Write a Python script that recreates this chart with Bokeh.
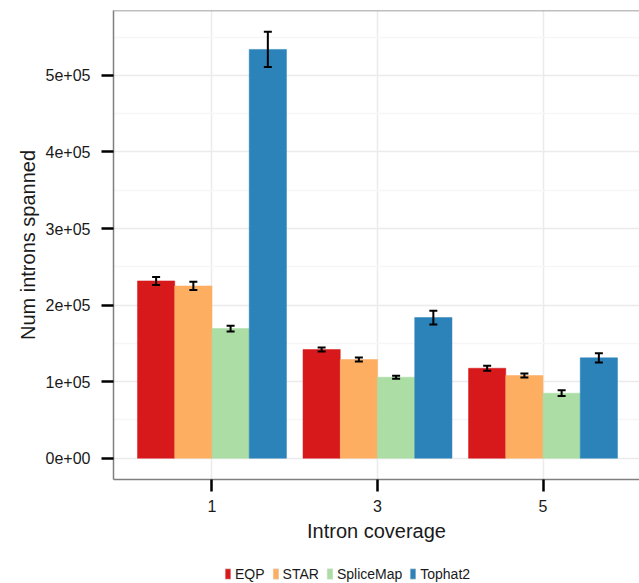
from bokeh.plotting import figure
from bokeh.layouts import column
from bokeh.models import (ColumnDataSource, Range1d, FixedTicker, Whisker, TeeHead,
                          Legend, LegendItem, Span)
from bokeh.embed import file_html
from bokeh.resources import INLINE

# ---------------- data ----------------
coverage = ["1", "3", "5"]
methods = ["EQP", "STAR", "SpliceMap", "Tophat2"]
colors = ["#D7191C", "#FDAE61", "#ABDDA4", "#2B83BA"]

eqp = [231600, 141900, 117500]
eqp_err = [5200, 2600, 3300]
star = [225000, 128900, 108000]
star_err = [5400, 2600, 2600]
splicemap = [169300, 105800, 84900]
splicemap_err = [3700, 2000, 3700]
tophat2 = [534000, 183700, 131100]
tophat2_err = [23000, 8900, 6100]

y_ticks = [0, 100000, 200000, 300000, 400000, 500000]
y_tick_labels = ["0e+00", "1e+05", "2e+05", "3e+05", "4e+05", "5e+05"]
y_minor = [50000, 150000, 250000, 350000, 450000, 550000]

values = [eqp, star, splicemap, tophat2]
errors = [eqp_err, star_err, splicemap_err, tophat2_err]

FONT = "Liberation Sans"
TXT = "#1a1a1a"
GRID = "#EBEBEB"
BORDER = "#7F7F7F"

# ggplot-like y expansion
ymax = max(v + e for vals, errs in zip(values, errors) for v, e in zip(vals, errs))
pad = 0.05 * ymax

p = figure(width=639, height=559, output_backend="svg", toolbar_location=None,
           x_range=Range1d(-0.595, 2.583), y_range=Range1d(-pad, ymax + pad),
           min_border_left=113, min_border_right=0, min_border_top=10,
           min_border_bottom=80)
p.outline_line_color = None
p.background_fill_color = "white"
p.border_fill_color = "white"

# legend strip (frame aligned with the main plot by the column layout)
lf = figure(width=639, height=24, output_backend="svg", toolbar_location=None,
            x_range=Range1d(0, 1), y_range=Range1d(0, 1),
            x_axis_type=None, y_axis_type=None,
            min_border_left=0, min_border_right=0, min_border_top=0, min_border_bottom=0)
lf.outline_line_color = None
lf.grid.grid_line_color = None
lf.background_fill_color = "white"
lf.border_fill_color = "white"

n = len(methods)
bw = 0.9 / n
items = []
for i, (name, col, vals, errs) in enumerate(zip(methods, colors, values, errors)):
    off = -0.45 + bw * (i + 0.5)
    xs = [g + off for g in range(len(coverage))]
    src = ColumnDataSource(dict(x=xs, top=vals,
                                upper=[v + e for v, e in zip(vals, errs)],
                                lower=[v - e for v, e in zip(vals, errs)]))
    p.vbar(x="x", top="top", bottom=0, width=bw, source=src,
           fill_color=col, line_color=col, line_width=0.5)
    w = Whisker(base="x", upper="upper", lower="lower", source=src,
                line_color="black", line_width=2,
                upper_head=TeeHead(size=8, line_color="black", line_width=2),
                lower_head=TeeHead(size=8, line_color="black", line_width=2),
                level="annotation")
    p.add_layout(w)
    # legend proxy: same data, hidden in the legend strip
    r = lf.vbar(x="x", top="top", bottom=0, width=bw, source=src,
                fill_color=col, line_color="#D9D9D9", line_width=0.5, visible=False)
    items.append(LegendItem(label=name, renderers=[r]))

# axes
p.xaxis.ticker = FixedTicker(ticks=list(range(len(coverage))))
p.xaxis.major_label_overrides = {i: c for i, c in enumerate(coverage)}
p.yaxis.ticker = FixedTicker(ticks=y_ticks, minor_ticks=y_minor)
p.yaxis.major_label_overrides = {t: l for t, l in zip(y_ticks, y_tick_labels)}

p.xaxis.axis_label = "Intron coverage"
p.yaxis.axis_label = "Num introns spanned"
for ax in (p.xaxis[0], p.yaxis[0]):
    ax.axis_line_color = BORDER
    ax.axis_line_width = 1.5
    ax.major_tick_line_color = "black"
    ax.major_tick_line_width = 2.5
    ax.major_tick_out = 12
    ax.major_tick_in = 0
    ax.minor_tick_line_color = None
    ax.major_label_text_font = FONT
    ax.major_label_text_font_size = "16px"
    ax.major_label_text_color = TXT
    ax.axis_label_text_font = FONT
    ax.axis_label_text_font_size = "20px"
    ax.axis_label_text_font_style = "normal"
    ax.axis_label_text_color = TXT
p.xaxis.major_label_standoff = 8
p.xaxis.axis_label_standoff = 5
p.yaxis.major_label_standoff = 11
p.yaxis.axis_label_standoff = 4

# top border of the panel
p.add_layout(Span(location=ymax + pad, dimension="width", line_color=BORDER, line_width=1.5))

# grid
p.xgrid.grid_line_color = GRID
p.xgrid.grid_line_width = 1.5
p.ygrid.grid_line_color = GRID
p.ygrid.grid_line_width = 1.5
p.ygrid.minor_grid_line_color = "#F6F6F6"
p.ygrid.minor_grid_line_width = 1.5

legend = Legend(items=items, orientation="horizontal", location=(111, 1),
                glyph_width=7, glyph_height=13, label_standoff=4, spacing=7,
                label_height=17, label_width=10,
                label_text_font=FONT, label_text_font_size="14px",
                label_text_color=TXT, border_line_color=None,
                background_fill_alpha=0, inactive_fill_alpha=0,
                margin=0, padding=2)
lf.add_layout(legend, "center")

layout = column(p, lf, spacing=0)
open("out.html", "w").write(file_html(layout, INLINE))
